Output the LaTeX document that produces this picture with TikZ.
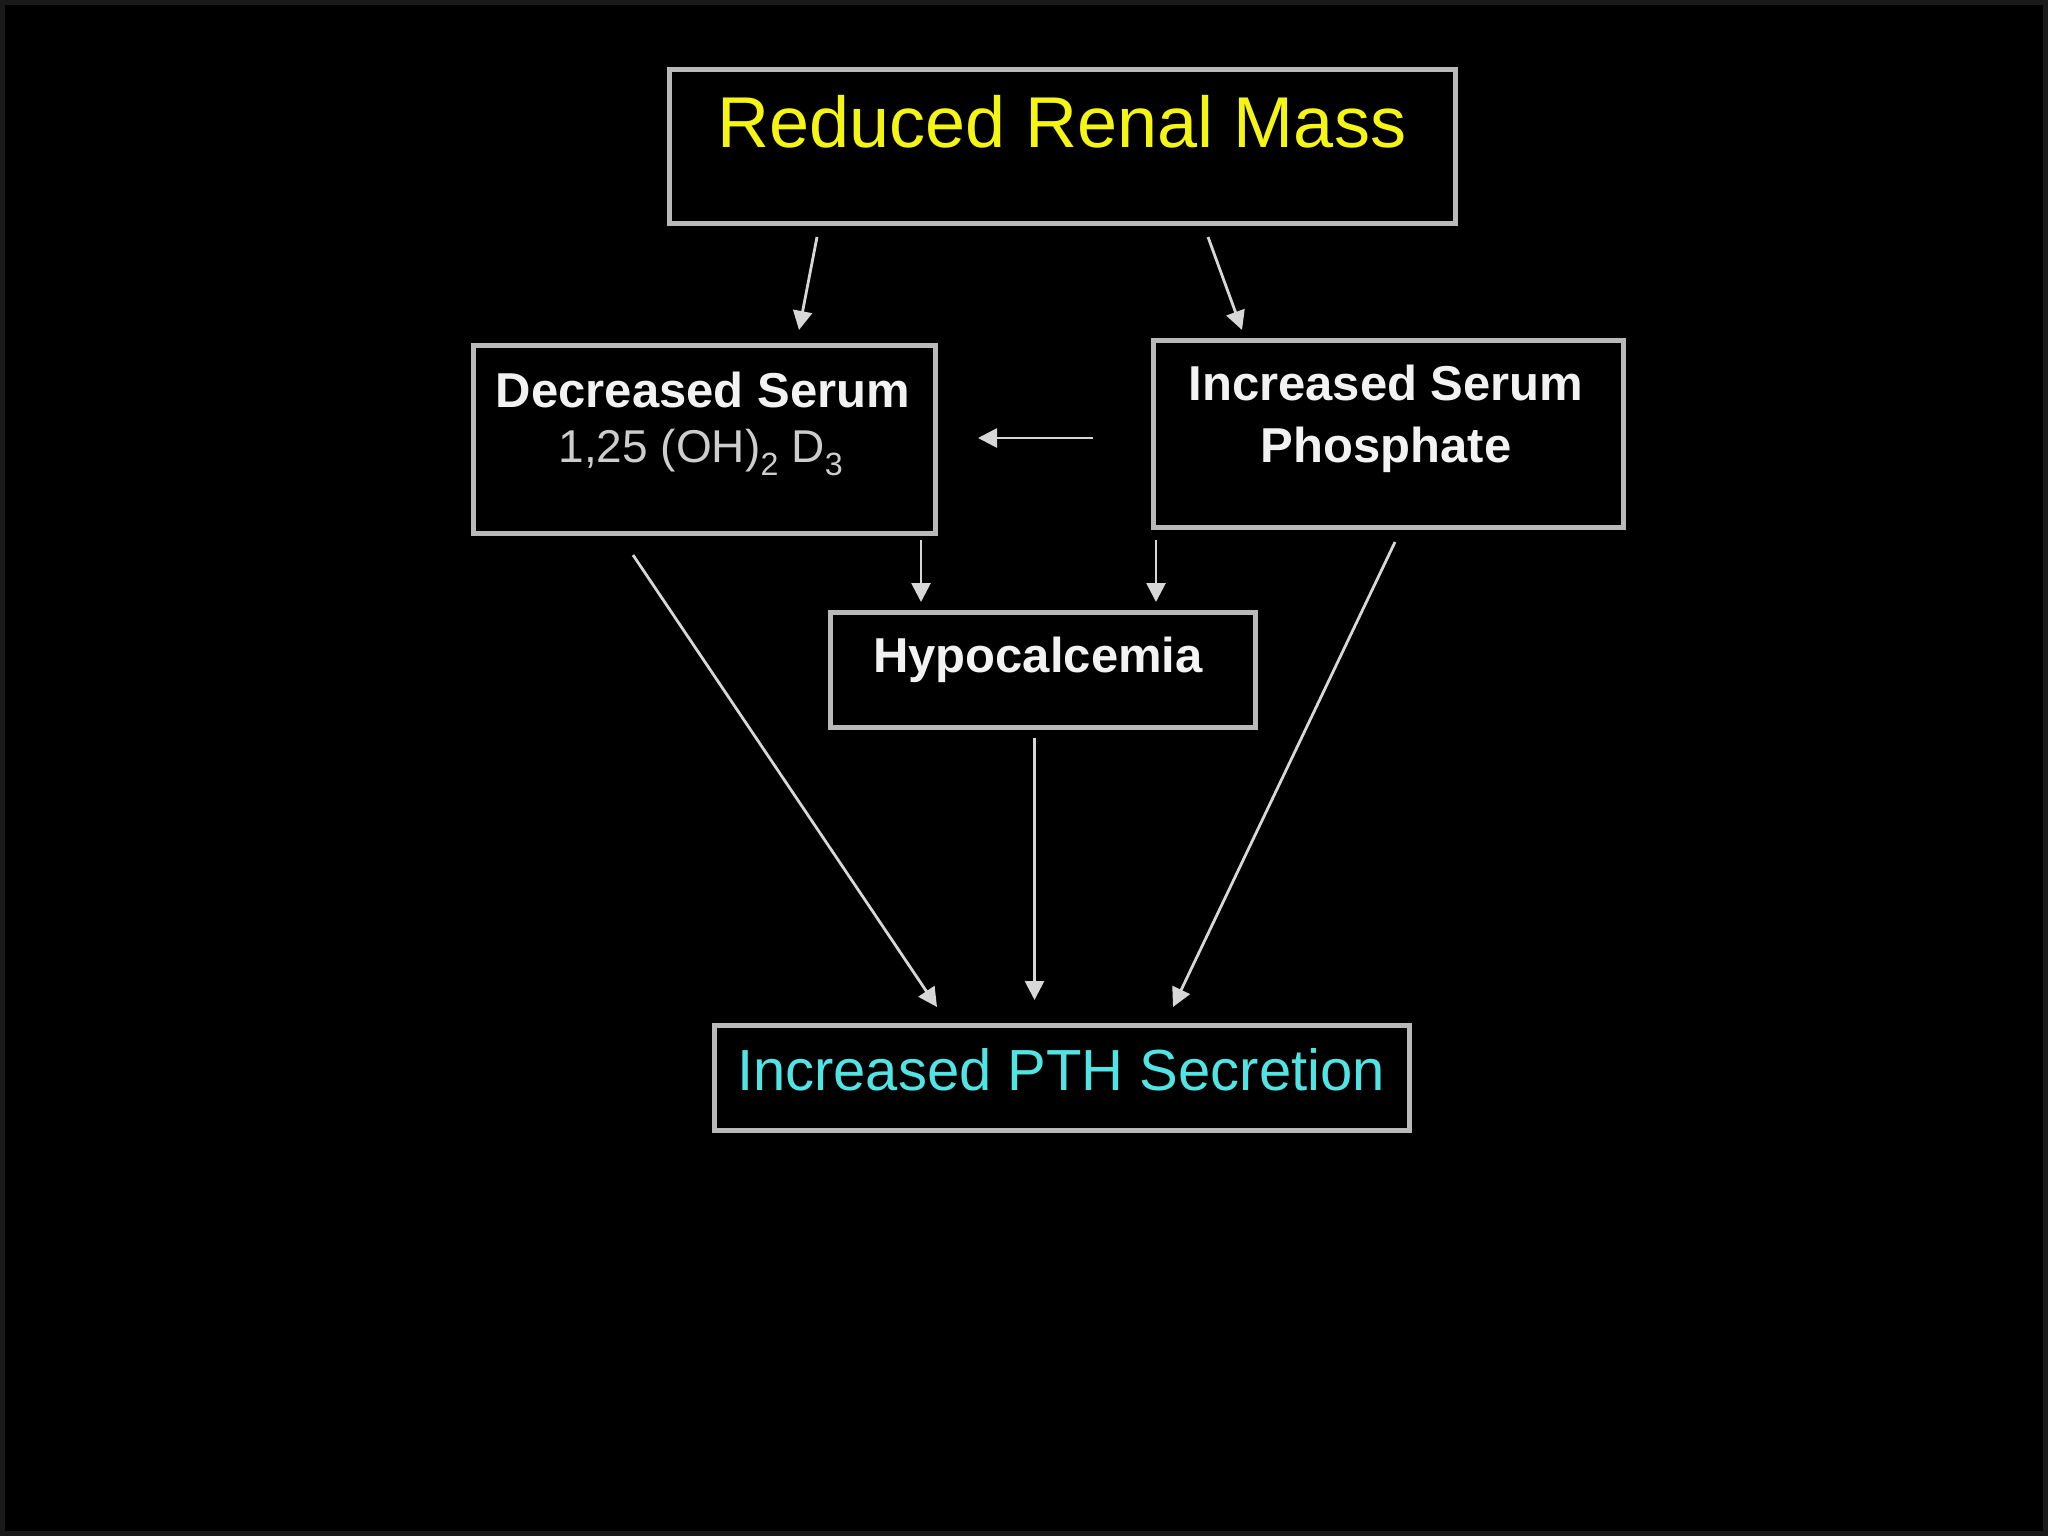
\documentclass[tikz,border=0pt]{standalone}
\usepackage{fontspec}
\setmainfont{Liberation Sans}
\usetikzlibrary{arrows.meta,calc}
\definecolor{bg}{RGB}{0,0,0}
\definecolor{frame}{RGB}{26,26,26}
\definecolor{boxline}{RGB}{185,185,185}
\definecolor{arrowcol}{RGB}{215,215,215}
\definecolor{ylw}{RGB}{245,245,20}
\definecolor{cyn}{RGB}{80,228,228}
\definecolor{wht}{RGB}{242,242,242}
\definecolor{lgray}{RGB}{205,205,205}
\tikzset{
  boxnode/.style={draw=boxline, line width=5pt, fill=black, inner sep=0pt, outer sep=0pt, minimum width=#1},
  txt/.style={anchor=base, inner sep=0pt, align=center},
  arr/.style={draw=arrowcol, line width=2.8pt, -{Triangle[width=19pt,length=19pt]}},
}
\begin{document}
\begin{tikzpicture}[x=1pt,y=-1pt]
\useasboundingbox (0,0) rectangle (2048,1536);
\fill[bg] (0,0) rectangle (2048,1536);
\draw[frame, line width=5pt] (2.5,2.5) rectangle (2045.5,1533.5);

% boxes
\node[boxnode=786pt, minimum height=153pt] (top) at (1062,146.5) {};
\node[boxnode=462pt, minimum height=188pt] (dec) at (704,439) {};
\node[boxnode=470pt, minimum height=187pt] (inc) at (1388,433.5) {};
\node[boxnode=425pt, minimum height=115pt] (hypo) at (1042.5,669.5) {};
\node[boxnode=695pt, minimum height=105pt] (pth) at (1061.5,1077.5) {};

% texts
\node[txt, text=ylw, font=\fontsize{72}{86}\selectfont] (toptext) at (1062,148) {Reduced Renal Mass};
\node[txt, text=wht, font=\fontsize{49}{58}\selectfont\bfseries] (dec1) at (703,407) {Decreased Serum};
\node[txt, text=lgray, font=\fontsize{46}{55}\selectfont] (dec2) at (701,462) {1,25 (OH)\textsubscript{2} D\textsubscript{3}};
\node[txt, text=wht, font=\fontsize{49}{58}\selectfont\bfseries] (inc1) at (1386,400) {Increased Serum};
\node[txt, text=wht, font=\fontsize{49}{58}\selectfont\bfseries] (inc2) at (1386,462) {Phosphate};
\node[txt, text=wht, font=\fontsize{49}{58}\selectfont\bfseries] (hypotext) at (1038,672) {Hypocalcemia};
\node[txt, text=cyn, font=\fontsize{58}{70}\selectfont] (pthtext) at (1061,1090) {Increased PTH Secretion};

% arrows
\draw[arr] ($(top.south)+(-245,14)$) -- ($(dec.north)+(95,-15)$);
\draw[arr] ($(top.south)+(146,14)$) -- ($(inc.north)+(-146,-10)$);
\draw[arr] ($(inc.west)+(-60,4.5)$) -- ($(dec.east)+(43,-1)$);
\draw[arr] ($(dec.south east)+(-14,7)$) -- ($(hypo.north west)+(91,-10)$);
\draw[arr] ($(inc.south west)+(3,13)$) -- ($(hypo.north east)+(-99,-10)$);
\draw[arr] ($(dec.south)+(-71,22)$) -- ($(pth.north)+(-124.5,-18)$);
\draw[arr] ($(hypo.south)+(-8,11)$) -- ($(pth.north)+(-27,-25)$);
\draw[arr] ($(inc.south)+(7,15)$) -- ($(pth.north)+(111.5,-18)$);
\end{tikzpicture}
\end{document}
